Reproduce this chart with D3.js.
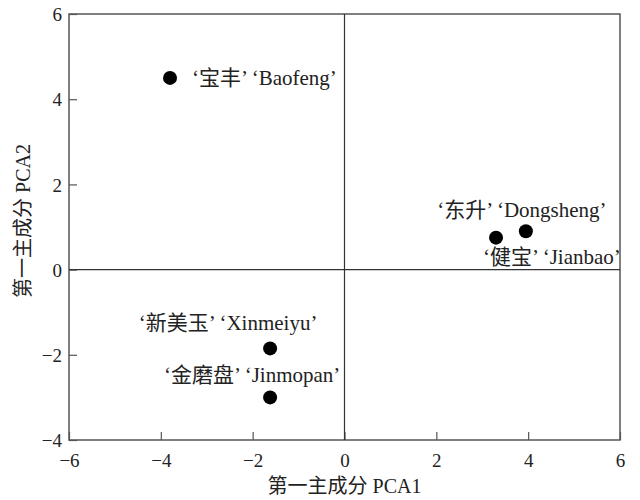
<!DOCTYPE html>
<html>
<head>
<meta charset="utf-8">
<script src="https://cdn.jsdelivr.net/npm/d3@7"></script>
<style>
  body { margin: 0; background: #fff; }
  text { font-family: "Liberation Serif", "Noto Sans CJK SC", serif; fill: #222; }
</style>
</head>
<body>
<div id="container"></div>
<script>
let w = 640;
let h = 500;

// cultivar names and their scores on the two components
let cultivars = ["‘宝丰’ ‘Baofeng’", "‘东升’ ‘Dongsheng’", "‘健宝’ ‘Jianbao’", "‘新美玉’ ‘Xinmeiyu’", "‘金磨盘’ ‘Jinmopan’"];
let pca1 = [-3.8, 3.95, 3.3, -1.62, -1.62];
let pca2 = [4.5, 0.9, 0.75, -1.85, -3.0];

let xTicks = [-6, -4, -2, 0, 2, 4, 6];
let yTicks = [-4, -2, 0, 2, 4, 6];
let xTitle = "第一主成分 PCA1";
let yTitle = "第一主成分 PCA2";

// where each label sits relative to its point (dx, dy, anchor)
let labelPlace = [
  [22, 7, "start"],
  [-4, -14, "middle"],
  [-13, 26, "start"],
  [-42, -18, "middle"],
  [-18, -15, "middle"]
];

let margin = {left: 69, right: 20, top: 14, bottom: 60};

let viz = d3.select("#container")
  .append("svg")
    .attr("width", w)
    .attr("height", h)
    .style("background-color", "white")
;

let xScale = d3.scaleLinear().domain([-6, 6]).range([margin.left, w - margin.right]);
let yScale = d3.scaleLinear().domain([-4, 6]).range([h - margin.bottom, margin.top]);

// frame
viz.append("rect")
  .attr("x", xScale(-6))
  .attr("y", yScale(6))
  .attr("width", xScale(6) - xScale(-6))
  .attr("height", yScale(-4) - yScale(6))
  .attr("fill", "none")
  .attr("stroke", "#555")
  .attr("stroke-width", 1.5)
;

// axes with inward ticks
let xAxis = d3.axisBottom(xScale).tickValues(xTicks).tickSizeInner(-8).tickSizeOuter(0).tickPadding(14);
let xAxisGroup = viz.append("g").attr("class", "xaxis")
  .attr("transform", "translate(0," + yScale(-4) + ")")
  .call(xAxis);

let yAxis = d3.axisLeft(yScale).tickValues(yTicks).tickSizeInner(-8).tickSizeOuter(0).tickPadding(7);
let yAxisGroup = viz.append("g").attr("class", "yaxis")
  .attr("transform", "translate(" + xScale(-6) + ",0)")
  .call(yAxis);

viz.selectAll(".xaxis .domain, .yaxis .domain").remove();
viz.selectAll(".xaxis line, .yaxis line").attr("stroke", "#555").attr("stroke-width", 1.2);
viz.selectAll(".xaxis text, .yaxis text")
  .attr("font-size", 19)
  .attr("fill", "#222")
  .attr("font-family", "Liberation Serif, serif")
;
viz.selectAll(".yaxis text").attr("dy", "0.35em");

// zero lines
viz.append("line")
  .attr("x1", xScale(-6)).attr("x2", xScale(6))
  .attr("y1", yScale(0)).attr("y2", yScale(0))
  .attr("stroke", "#333").attr("stroke-width", 1.2);
viz.append("line")
  .attr("x1", xScale(0)).attr("x2", xScale(0))
  .attr("y1", yScale(-4)).attr("y2", yScale(6))
  .attr("stroke", "#333").attr("stroke-width", 1.2);

// points
let data = cultivars.map(function(name, i){
  return {name: name, x: pca1[i], y: pca2[i], place: labelPlace[i]};
});

let groups = viz.selectAll(".datagroup").data(data).enter()
  .append("g")
  .attr("class", "datagroup")
  .attr("transform", function(d){
    return "translate(" + xScale(d.x) + "," + yScale(d.y) + ")";
  })
;

groups.append("circle")
  .attr("r", 7)
  .attr("fill", "black");

groups.append("text")
  .text(function(d){ return d.name; })
  .attr("x", function(d){ return d.place[0]; })
  .attr("y", function(d){ return d.place[1]; })
  .attr("text-anchor", function(d){ return d.place[2]; })
  .attr("font-size", 21)
;

// axis titles
viz.append("text")
  .text(xTitle)
  .attr("x", xScale(0))
  .attr("y", 493)
  .attr("text-anchor", "middle")
  .attr("font-size", 20)
;

viz.append("text")
  .text(yTitle)
  .attr("transform", "translate(30,221) rotate(-90)")
  .attr("text-anchor", "middle")
  .attr("font-size", 20)
;
</script>
</body>
</html>
